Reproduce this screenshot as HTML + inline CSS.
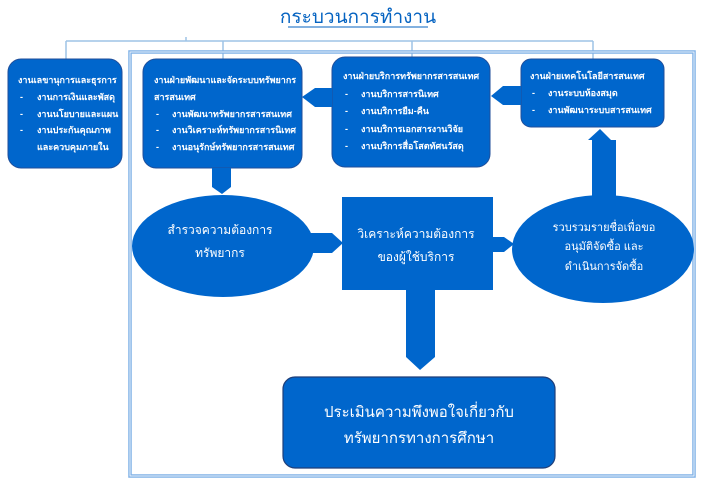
<!DOCTYPE html>
<html><head><meta charset="utf-8"><style>
html,body{margin:0;padding:0;background:#fff;width:713px;height:482px;overflow:hidden}
svg{display:block}
text{font-family:"Liberation Sans","DejaVu Sans",sans-serif;fill:#fff}
.s{font-size:9px;font-weight:bold}
.m{font-size:12px}
.l{font-size:15px}
</style></head><body>
<svg width="713" height="482" viewBox="0 0 713 482">
<text x="358" y="23" text-anchor="middle" style="fill:#0563c1;font-size:19px">กระบวนการทำงาน</text>
<line x1="288" y1="27" x2="428" y2="27" stroke="#0563c1" stroke-width="1"/>
<g stroke="#9dc3e6" stroke-width="1.5" fill="none">
<line x1="186" y1="37" x2="186" y2="41"/>
<line x1="66" y1="41" x2="593" y2="41"/>
<line x1="66" y1="41" x2="66" y2="60"/>
<line x1="223" y1="41" x2="223" y2="60"/>
<line x1="412" y1="41" x2="412" y2="57"/>
<line x1="593" y1="41" x2="593" y2="60"/>
</g>
<rect x="130" y="52" width="564" height="424" fill="none" stroke="#7fb0e6" stroke-width="3.5"/>
<rect x="130" y="52" width="564" height="424" fill="none" stroke="#ffffff" stroke-width="0.8"/>
<g fill="#0066cc" stroke="#1f4e9a" stroke-width="1">
<rect x="8" y="59" width="114" height="109" rx="13"/>
<rect x="143" y="59" width="159" height="109" rx="13"/>
<rect x="332" y="57" width="158" height="110" rx="13"/>
<rect x="521" y="59" width="143" height="68" rx="10"/>
</g>
<g fill="#0066cc">
<polygon points="302,97 315,88 332,88 332,107 315,107"/>
<polygon points="491,96 503,86 521,86 521,105 503,105"/>
<polygon points="212,168 231,168 231,187 222,194 212,187"/>
<ellipse cx="223" cy="246" rx="91" ry="51"/>
<ellipse cx="603" cy="249" rx="91" ry="54"/>
<polygon points="600,129 611,140 616,140 616,200 592,200 592,140 588,140"/>
<polygon points="310,233 332,233 343,243 332,253 310,253"/>
<rect x="342" y="197" width="151" height="93"/>
<polygon points="493,237 504,237 514,244 504,252 493,252"/>
<polygon points="406,290 435,290 435,357 420,370 406,357"/>
</g>
<rect x="283" y="377" width="272" height="91" rx="12" fill="#0066cc" stroke="#1f3f7a" stroke-width="1.2"/>
<text class="s" x="18" y="83">งานเลขานุการและธุรการ</text>
<text class="s" x="20" y="100">-</text><text class="s" x="37" y="100">งานการเงินและพัสดุ</text>
<text class="s" x="20" y="117">-</text><text class="s" x="37" y="117">งานนโยบายและแผน</text>
<text class="s" x="20" y="133">-</text><text class="s" x="37" y="133">งานประกันคุณภาพ</text>
<text class="s" x="37" y="150">และควบคุมภายใน</text>
<text class="s" x="154" y="83">งานฝ่ายพัฒนาและจัดระบบทรัพยากร</text>
<text class="s" x="154" y="100">สารสนเทศ</text>
<text class="s" x="156" y="117">-</text><text class="s" x="172" y="117">งานพัฒนาทรัพยากรสารสนเทศ</text>
<text class="s" x="156" y="133">-</text><text class="s" x="172" y="133">งานวิเคราะห์ทรัพยากรสารนิเทศ</text>
<text class="s" x="156" y="150">-</text><text class="s" x="172" y="150">งานอนุรักษ์ทรัพยากรสารสนเทศ</text>
<text class="s" x="343" y="79">งานฝ่ายบริการทรัพยากรสารสนเทศ</text>
<text class="s" x="345" y="97">-</text><text class="s" x="361" y="97">งานบริการสารนิเทศ</text>
<text class="s" x="345" y="114">-</text><text class="s" x="361" y="114">งานบริการยืม-คืน</text>
<text class="s" x="345" y="132">-</text><text class="s" x="361" y="132">งานบริการเอกสารงานวิจัย</text>
<text class="s" x="345" y="149">-</text><text class="s" x="361" y="149">งานบริการสื่อโสตทัศนวัสดุ</text>
<text class="s" x="530" y="79">งานฝ่ายเทคโนโลยีสารสนเทศ</text>
<text class="s" x="532" y="96">-</text><text class="s" x="548" y="96">งานระบบห้องสมุด</text>
<text class="s" x="532" y="113">-</text><text class="s" x="548" y="113">งานพัฒนาระบบสารสนเทศ</text>
<text class="m" x="220" y="234" text-anchor="middle">สำรวจความต้องการ</text>
<text class="m" x="220" y="257" text-anchor="middle">ทรัพยากร</text>
<text class="m" x="416" y="238" text-anchor="middle">วิเคราะห์ความต้องการ</text>
<text class="m" x="416" y="261" text-anchor="middle">ของผู้ใช้บริการ</text>
<text class="m" x="604" y="231" text-anchor="middle" style="font-size:11px">รวบรวมรายชื่อเพื่อขอ</text>
<text class="m" x="604" y="250" text-anchor="middle" style="font-size:11px">อนุมัติจัดซื้อ และ</text>
<text class="m" x="604" y="270" text-anchor="middle" style="font-size:11px">ดำเนินการจัดซื้อ</text>
<text class="l" x="419" y="417" text-anchor="middle">ประเมินความพึงพอใจเกี่ยวกับ</text>
<text class="l" x="419" y="443" text-anchor="middle">ทรัพยากรทางการศึกษา</text>
</svg>
</body></html>
